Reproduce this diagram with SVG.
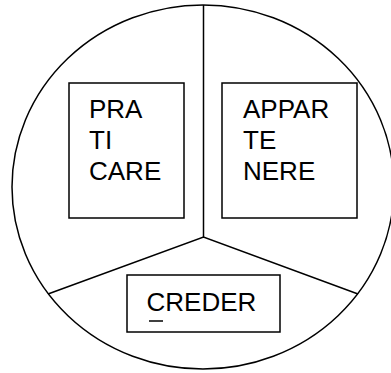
<svg xmlns="http://www.w3.org/2000/svg" width="391" height="373" viewBox="0 0 391 373">
<style>
.ln{fill:none;stroke:#000;stroke-width:1.5}
.box{fill:#fff;stroke:#000;stroke-width:1.5}
.t{font-family:"Liberation Sans",Arial,sans-serif;font-size:26px;fill:#000}
</style>
<rect width="391" height="373" fill="#fff"/>
<g id="connectors">
<ellipse class="ln" cx="203" cy="187" rx="191" ry="182"/>
<polyline class="ln" points="203.5,5 203.5,237"/>
<polyline class="ln" points="48,294 203.5,237 358,294"/>
</g>
<g id="praticare">
<rect class="box" x="69" y="83" width="115" height="135"/>
<text class="t" x="89" y="118">PRA</text>
<text class="t" x="89" y="149">TI</text>
<text class="t" x="89" y="180">CARE</text>
</g>
<g id="appartenere">
<rect class="box" x="222" y="83" width="135" height="135"/>
<text class="t" x="243" y="118">APPAR</text>
<text class="t" x="243" y="149">TE</text>
<text class="t" x="243" y="180">NERE</text>
</g>
<g id="creder">
<rect class="box" x="127" y="275" width="153" height="57"/>
<text class="t" x="146.5" y="311">CREDER</text>
<line class="ln" x1="149" y1="321" x2="163" y2="321" stroke-width="1.2"/>
</g>
</svg>
